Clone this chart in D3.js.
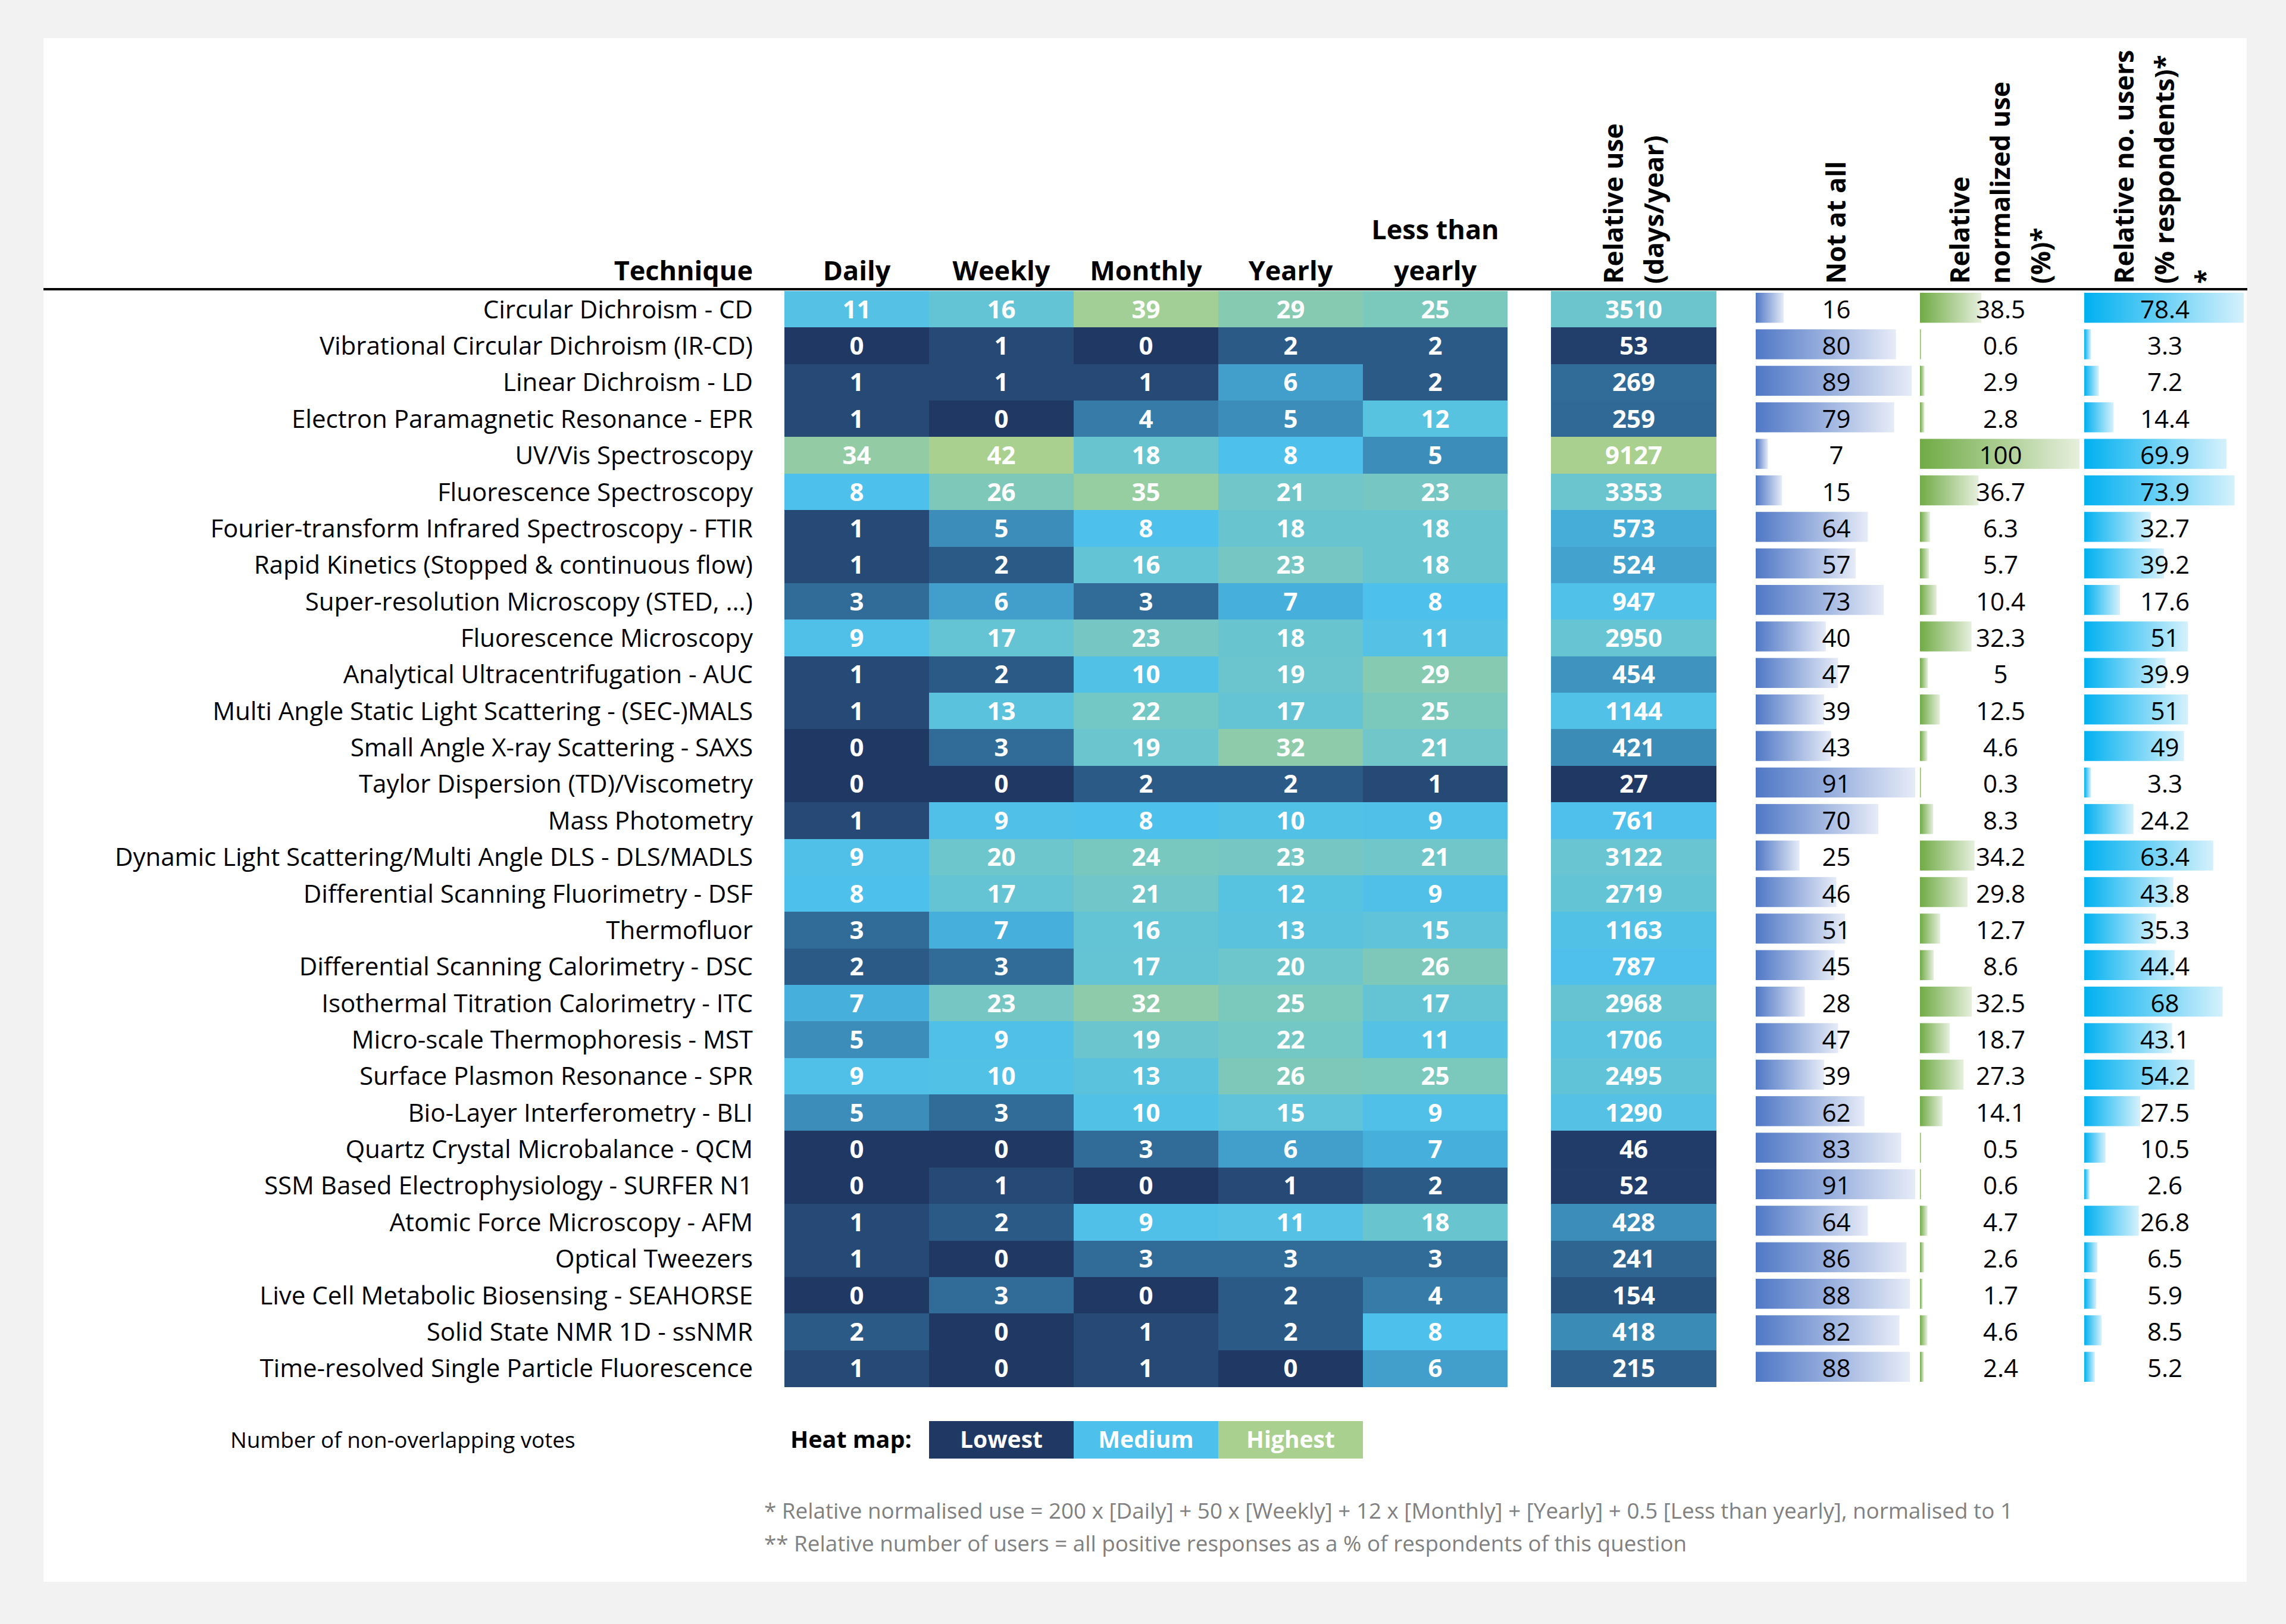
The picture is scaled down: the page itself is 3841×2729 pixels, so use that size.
<!DOCTYPE html>
<html>
<head>
<meta charset="utf-8">
<script src="https://d3js.org/d3.v7.min.js"></script>
<style>
  body { margin: 0; background: #f2f2f2; }
  svg { display: block; font-family: "Open Sans", sans-serif; }
</style>
</head>
<body>
<svg id="chart" width="3841" height="2729"></svg>
<script>

// survey data
var techniques = [
  "Circular Dichroism - CD",
  "Vibrational Circular Dichroism (IR-CD)",
  "Linear Dichroism - LD",
  "Electron Paramagnetic Resonance - EPR",
  "UV/Vis Spectroscopy",
  "Fluorescence Spectroscopy",
  "Fourier-transform Infrared Spectroscopy - FTIR",
  "Rapid Kinetics (Stopped & continuous flow)",
  "Super-resolution Microscopy (STED, ...)",
  "Fluorescence Microscopy",
  "Analytical Ultracentrifugation - AUC",
  "Multi Angle Static Light Scattering - (SEC-)MALS",
  "Small Angle X-ray Scattering - SAXS",
  "Taylor Dispersion (TD)/Viscometry",
  "Mass Photometry",
  "Dynamic Light Scattering/Multi Angle DLS - DLS/MADLS",
  "Differential Scanning Fluorimetry - DSF",
  "Thermofluor",
  "Differential Scanning Calorimetry - DSC",
  "Isothermal Titration Calorimetry - ITC",
  "Micro-scale Thermophoresis - MST",
  "Surface Plasmon Resonance - SPR",
  "Bio-Layer Interferometry - BLI",
  "Quartz Crystal Microbalance - QCM",
  "SSM Based Electrophysiology - SURFER N1",
  "Atomic Force Microscopy - AFM",
  "Optical Tweezers",
  "Live Cell Metabolic Biosensing - SEAHORSE",
  "Solid State NMR 1D - ssNMR",
  "Time-resolved Single Particle Fluorescence"
]

var freqLabels = ["Daily", "Weekly", "Monthly", "Yearly", "Less than yearly"]

var daily      = [11, 0, 1, 1, 34, 8, 1, 1, 3, 9, 1, 1, 0, 0, 1, 9, 8, 3, 2, 7, 5, 9, 5, 0, 0, 1, 1, 0, 2, 1]
var weekly     = [16, 1, 1, 0, 42, 26, 5, 2, 6, 17, 2, 13, 3, 0, 9, 20, 17, 7, 3, 23, 9, 10, 3, 0, 1, 2, 0, 3, 0, 0]
var monthly    = [39, 0, 1, 4, 18, 35, 8, 16, 3, 23, 10, 22, 19, 2, 8, 24, 21, 16, 17, 32, 19, 13, 10, 3, 0, 9, 3, 0, 1, 1]
var yearly     = [29, 2, 6, 5, 8, 21, 18, 23, 7, 18, 19, 17, 32, 2, 10, 23, 12, 13, 20, 25, 22, 26, 15, 6, 1, 11, 3, 2, 2, 0]
var lessYearly = [25, 2, 2, 12, 5, 23, 18, 18, 8, 11, 29, 25, 21, 1, 9, 21, 9, 15, 26, 17, 11, 25, 9, 7, 2, 18, 3, 4, 8, 6]

var relUse     = [3510, 53, 269, 259, 9127, 3353, 573, 524, 947, 2950, 454, 1144, 421, 27, 761, 3122, 2719, 1163, 787, 2968, 1706, 2495, 1290, 46, 52, 428, 241, 154, 418, 215]
var notAtAll   = [16, 80, 89, 79, 7, 15, 64, 57, 73, 40, 47, 39, 43, 91, 70, 25, 46, 51, 45, 28, 47, 39, 62, 83, 91, 64, 86, 88, 82, 88]
var relNormUse = [38.5, 0.6, 2.9, 2.8, 100, 36.7, 6.3, 5.7, 10.4, 32.3, 5, 12.5, 4.6, 0.3, 8.3, 34.2, 29.8, 12.7, 8.6, 32.5, 18.7, 27.3, 14.1, 0.5, 0.6, 4.7, 2.6, 1.7, 4.6, 2.4]
var relUsers   = [78.4, 3.3, 7.2, 14.4, 69.9, 73.9, 32.7, 39.2, 17.6, 51, 39.9, 51, 49, 3.3, 24.2, 63.4, 43.8, 35.3, 44.4, 68, 43.1, 54.2, 27.5, 10.5, 2.6, 26.8, 6.5, 5.9, 8.5, 5.2]

var legendLabels = ["Lowest", "Medium", "Highest"]
var footnotes = [
  "* Relative normalised use = 200 x [Daily] + 50 x [Weekly] + 12 x [Monthly] + [Yearly] + 0.5 [Less than yearly], normalised to 1",
  "** Relative number of users = all positive responses as a % of respondents of this question"
]

var heatColors = ["#203864", "#4dc0ec", "#a9d08e"]

var svg = d3.select("#chart")

// white sheet
svg.append("rect")
  .attr("x", 73).attr("y", 64)
  .attr("width", 3702).attr("height", 2594)
  .attr("fill", "#fff")

var yScale = d3.scaleBand()
  .domain(techniques)
  .range([489, 2330])

var xFreq = d3.scaleBand()
  .domain(freqLabels)
  .range([1318, 2533])

var rowH = yScale.bandwidth()
var fs = 42
var capShift = fs * 0.357

// 3 colour scale: min / 50th percentile / max (like excel)
function heatScale(values) {
  var sorted = values.slice().sort(d3.ascending)
  return d3.scaleLinear()
    .domain([sorted[0], d3.quantileSorted(sorted, 0.5), sorted[sorted.length - 1]])
    .range(heatColors)
}

var freqSeries = [daily, weekly, monthly, yearly, lessYearly]
var freqColor = heatScale(d3.merge(freqSeries))
var relColor = heatScale(relUse)

// row labels
svg.append("g").selectAll("text")
  .data(techniques)
  .join("text")
  .attr("x", 1265)
  .attr("y", d => yScale(d) + rowH / 2 + capShift)
  .attr("text-anchor", "end")
  .style("font-size", fs + "px")
  .text(d => d)

// heat map cells
freqSeries.forEach(function(series, j) {
  var g = svg.append("g")
  var cells = series.map((v, i) => ({ v: v, t: techniques[i] }))
  g.selectAll("rect")
    .data(cells)
    .join("rect")
    .attr("x", xFreq(freqLabels[j]))
    .attr("y", d => yScale(d.t))
    .attr("width", xFreq.bandwidth())
    .attr("height", rowH + 0.5)
    .attr("fill", d => freqColor(d.v))
    .attr("shape-rendering", "crispEdges")
  g.selectAll("text")
    .data(cells)
    .join("text")
    .attr("x", xFreq(freqLabels[j]) + xFreq.bandwidth() / 2)
    .attr("y", d => yScale(d.t) + rowH / 2 + capShift)
    .attr("text-anchor", "middle")
    .attr("fill", "#fff")
    .style("font-size", fs + "px")
    .style("font-weight", "bold")
    .text(d => d.v)
})

// relative use column
var relX0 = 2606, relW = 278
var relG = svg.append("g")
var relCells = relUse.map((v, i) => ({ v: v, t: techniques[i] }))
relG.selectAll("rect")
  .data(relCells)
  .join("rect")
  .attr("x", relX0)
  .attr("y", d => yScale(d.t))
  .attr("width", relW)
  .attr("height", rowH + 0.5)
  .attr("fill", d => relColor(d.v))
  .attr("shape-rendering", "crispEdges")
relG.selectAll("text")
  .data(relCells)
  .join("text")
  .attr("x", relX0 + relW / 2)
  .attr("y", d => yScale(d.t) + rowH / 2 + capShift)
  .attr("text-anchor", "middle")
  .attr("fill", "#fff")
  .style("font-size", fs + "px")
  .style("font-weight", "bold")
  .text(d => d.v)

// data bar columns
var defs = svg.append("defs")
var barCols = [
  { vals: notAtAll,   x0: 2946, c0: "#5078c6", c1: "#e6ebf7", id: "gNot" },
  { vals: relNormUse, x0: 3222, c0: "#70ab45", c1: "#e6efdd", id: "gNorm" },
  { vals: relUsers,   x0: 3498, c0: "#00b0f0", c1: "#d5f1fc", id: "gUsers" }
]
var colW = 277

barCols.forEach(function(col) {
  var grad = defs.append("linearGradient").attr("id", col.id)
  grad.append("stop").attr("offset", "0%").attr("stop-color", col.c0)
  grad.append("stop").attr("offset", "100%").attr("stop-color", col.c1)

  var len = d3.scaleLinear()
    .domain([0, d3.max(col.vals)])
    .range([0, 268])

  var cells = col.vals.map((v, i) => ({ v: v, t: techniques[i] }))
  var g = svg.append("g")
  g.selectAll("rect")
    .data(cells)
    .join("rect")
    .attr("x", col.x0 + 4)
    .attr("y", d => yScale(d.t) + 3)
    .attr("width", d => Math.max(len(d.v), 2))
    .attr("height", rowH - 11)
    .attr("fill", "url(#" + col.id + ")")
  g.selectAll("text")
    .data(cells)
    .join("text")
    .attr("x", col.x0 + colW / 2 + 1)
    .attr("y", d => yScale(d.t) + rowH / 2 + capShift)
    .attr("text-anchor", "middle")
    .style("font-size", fs + "px")
    .text(d => d.v)
})

// headers
var hdr = svg.append("g").style("font-weight", "bold").style("font-size", "45px")

hdr.append("text")
  .attr("x", 1265).attr("y", 471)
  .attr("text-anchor", "end")
  .text("Technique")

hdr.selectAll("text.freq")
  .data(freqLabels)
  .join("text")
  .attr("class", "freq")
  .attr("text-anchor", "middle")
  .attr("x", d => xFreq(d) + xFreq.bandwidth() / 2)
  .attr("y", 471)
  .each(function(d) {
    var el = d3.select(this)
    if (d == "Less than yearly") {
      el.append("tspan").attr("x", xFreq(d) + xFreq.bandwidth() / 2).attr("dy", -69).text("Less than")
      el.append("tspan").attr("x", xFreq(d) + xFreq.bandwidth() / 2).attr("dy", 69).text("yearly")
    } else {
      el.text(d)
    }
  })

var rotHeaders = [
  { lines: ["Relative use", "(days/year)"], cx: relX0 + relW / 2 },
  { lines: ["Not at all"], cx: barCols[0].x0 + colW / 2 },
  { lines: ["Relative", "normalized use", "(%)*"], cx: barCols[1].x0 + colW / 2 },
  { lines: ["Relative no. users", "(% respondents)*", "*"], cx: barCols[2].x0 + colW / 2 }
]
var lh = 68
rotHeaders.forEach(function(h) {
  var n = h.lines.length
  h.lines.forEach(function(line, i) {
    var bx = h.cx + 16 + (i - (n - 1) / 2) * lh
    hdr.append("text")
      .attr("transform", `translate(${bx},477) rotate(-90)`)
      .style("font-size", "44.5px")
      .text(line)
  })
})

// header rule
svg.append("rect")
  .attr("x", 73).attr("y", 484)
  .attr("width", 3703).attr("height", 4)
  .attr("fill", "#000")

// bottom notes and legend
svg.append("text")
  .attr("x", 387).attr("y", 2433)
  .style("font-size", "36.8px")
  .text("Number of non-overlapping votes")

svg.append("text")
  .attr("x", 1328).attr("y", 2433)
  .style("font-size", "39.5px")
  .style("font-weight", "bold")
  .text("Heat map:")

var legendBands = freqLabels.slice(1, 4)
var leg = svg.append("g")
leg.selectAll("rect")
  .data(legendLabels)
  .join("rect")
  .attr("x", (d, i) => xFreq(legendBands[i]))
  .attr("y", 2388)
  .attr("width", xFreq.bandwidth())
  .attr("height", 63)
  .attr("fill", (d, i) => heatColors[i])
  .attr("shape-rendering", "crispEdges")
leg.selectAll("text")
  .data(legendLabels)
  .join("text")
  .attr("x", (d, i) => xFreq(legendBands[i]) + xFreq.bandwidth() / 2)
  .attr("y", 2433)
  .attr("text-anchor", "middle")
  .attr("fill", "#fff")
  .style("font-size", "39px")
  .style("font-weight", "bold")
  .text(d => d)

svg.append("g").selectAll("text")
  .data(footnotes)
  .join("text")
  .attr("x", 1284)
  .attr("y", (d, i) => 2552 + i * 55)
  .attr("fill", "#808080")
  .style("font-size", "36.8px")
  .text(d => d)

</script>
</body>
</html>
